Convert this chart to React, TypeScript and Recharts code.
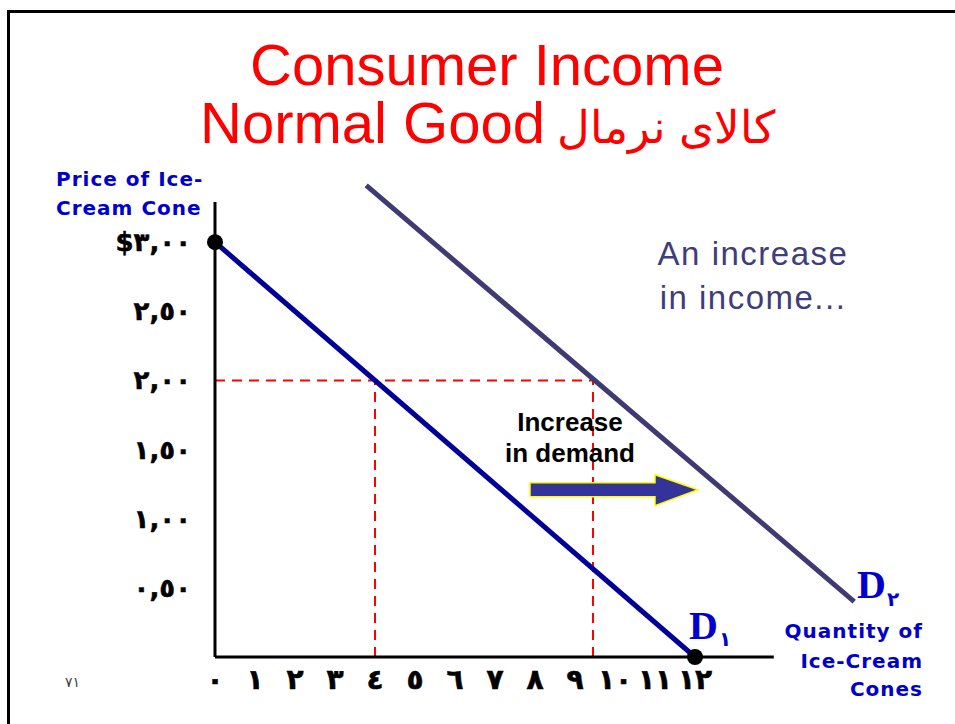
import { LineChart, Line, XAxis, YAxis, ReferenceLine, ReferenceDot } from 'recharts';

// quantity axis (ice-cream cones)
const QUANTITY_TICKS = [0, 1, 2, 3, 4, 5, 6, 7, 8, 9, 10, 11, 12];
const QUANTITY_LABELS = ['٠', '١', '٢', '٣', '٤', '٥', '٦', '٧', '٨', '٩', '١٠', '١١', '١٢'];

// price axis
const PRICE_TICKS = [0.5, 1, 1.5, 2, 2.5, 3];
const PRICE_LABELS = ['٠,٥٠', '١,٠٠', '١,٥٠', '٢,٠٠', '٢,٥٠', '$٣,٠٠'];

// demand curves, end points (quantity, price)
const D1_QTY = [0, 12];
const D1_PRICE = [3, 0];
const D2_QTY = [3.78, 15.98];
const D2_PRICE = [3.41, 0.4];

// price level and quantities demanded before / after
const PRICE_LEVEL = 2;
const OLD_QTY = 4;
const NEW_QTY = 9.45;

// where the arrow starts (quantity, price)
const ARROW_QTY = 7.875;
const ARROW_PRICE = 1.21;

// axis line lengths
const Q_AXIS_END = 13.97;
const P_AXIS_END = 3.29;

const d1 = D1_QTY.map((q, i) => ({ q, p: D1_PRICE[i] }));
const d2 = D2_QTY.map((q, i) => ({ q, p: D2_PRICE[i] }));

const BLUE = '#0000cc';
const TICK_FONT = '"DejaVu Sans", sans-serif';

function QuantityTick({ x, y, payload }: any) {
  const i = QUANTITY_TICKS.indexOf(payload.value);
  return (
    <text x={x} y={y} dy={32} textAnchor="middle" fontSize={28} fontWeight="bold" fontFamily={TICK_FONT} fill="#000" stroke="#000" strokeWidth={0.6}>
      {QUANTITY_LABELS[i]}
    </text>
  );
}

function PriceTick({ x, y, payload }: any) {
  const i = PRICE_TICKS.indexOf(payload.value);
  return (
    <text x={x - 24} y={y} dy={9} textAnchor="end" fontSize={26} fontWeight="bold" fontFamily={TICK_FONT} fill="#000" stroke="#000" strokeWidth={0.5}>
      {PRICE_LABELS[i]}
    </text>
  );
}

function Arrow({ cx, cy }: any) {
  const path = `M${cx},${cy - 7} L${cx + 125},${cy - 7} L${cx + 125},${cy - 15} L${cx + 168},${cy} L${cx + 125},${cy + 16} L${cx + 125},${cy + 7} L${cx},${cy + 7} Z`;
  return <path d={path} fill="#333399" stroke="#ffff00" strokeWidth={1.5} />;
}

const dash = { stroke: '#ff0000', strokeWidth: 2, strokeDasharray: '10 7' };

export default function App() {
  return (
    <div style={{ position: 'absolute', left: 0, top: 0, width: 955, height: 724, overflow: 'hidden', background: '#fff' }}>
      <div style={{ position: 'absolute', left: 7, top: 10, width: 1000, height: 800, borderLeft: '3px solid #000', borderTop: '3px solid #000' }} />
      <div style={{ position: 'absolute', left: 0, top: 0 }}>
        <LineChart width={955} height={724} margin={{ top: 173, right: 100, bottom: 17, left: 15 }}>
          <XAxis
            type="number"
            dataKey="q"
            domain={[0, 16]}
            ticks={QUANTITY_TICKS}
            interval={0}
            axisLine={false}
            tickLine={false}
            tickSize={0}
            tickMargin={0}
            height={50}
            tick={<QuantityTick />}
          />
          <YAxis
            type="number"
            dataKey="p"
            domain={[0, 3.5]}
            ticks={PRICE_TICKS}
            interval={0}
            axisLine={false}
            tickLine={false}
            tickSize={0}
            tickMargin={0}
            width={200}
            tick={<PriceTick />}
          />
          <ReferenceDot x={ARROW_QTY} y={ARROW_PRICE} r={1} shape={<Arrow />} ifOverflow="visible" />
          <ReferenceLine segment={[{ x: 0, y: PRICE_LEVEL }, { x: NEW_QTY, y: PRICE_LEVEL }]} {...dash} />
          <ReferenceLine segment={[{ x: OLD_QTY, y: 0 }, { x: OLD_QTY, y: PRICE_LEVEL }]} {...dash} />
          <ReferenceLine segment={[{ x: NEW_QTY, y: 0 }, { x: NEW_QTY, y: PRICE_LEVEL }]} {...dash} />
          <ReferenceLine segment={[{ x: 0, y: 0 }, { x: Q_AXIS_END, y: 0 }]} stroke="#000" strokeWidth={3} ifOverflow="visible" />
          <ReferenceLine segment={[{ x: 0, y: 0 }, { x: 0, y: P_AXIS_END }]} stroke="#000" strokeWidth={3} ifOverflow="visible" />
          <Line data={d2} dataKey="p" stroke="#3f3a72" strokeWidth={5} dot={false} isAnimationActive={false} />
          <Line data={d1} dataKey="p" stroke="#000099" strokeWidth={5} dot={false} isAnimationActive={false} />
          <ReferenceDot x={D1_QTY[0]} y={D1_PRICE[0]} r={8} fill="#000" stroke="none" ifOverflow="visible" />
          <ReferenceDot x={D1_QTY[1]} y={D1_PRICE[1]} r={8} fill="#000" stroke="none" ifOverflow="visible" />
        </LineChart>
      </div>
      <svg width={955} height={724} style={{ position: 'absolute', left: 0, top: 0, pointerEvents: 'none' }}>
        <g fontFamily='"Liberation Sans", Arial, sans-serif' fill="#ff0000" fontSize={58}>
          <text x={487} y={85} textAnchor="middle">Consumer Income</text>
          <text x={200} y={143}>Normal Good</text>
          <text x={775} y={143} textAnchor="end" fontSize={45}>کالای نرمال</text>
        </g>
        <g fontFamily='"DejaVu Sans", sans-serif' fontWeight="bold" fill={BLUE} fontSize={20} letterSpacing={1}>
          <text x={56} y={186}>Price of Ice-</text>
          <text x={56} y={215}>Cream Cone</text>
          <text x={923} y={638} textAnchor="end">Quantity of</text>
          <text x={923} y={668} textAnchor="end">Ice-Cream</text>
          <text x={923} y={696} textAnchor="end">Cones</text>
        </g>
        <g fontFamily='"Liberation Sans", Arial, sans-serif' fill="#3f3d7a" fontSize={33} letterSpacing={1.5}>
          <text x={753} y={265} textAnchor="middle">An increase</text>
          <text x={753} y={309} textAnchor="middle">in income...</text>
        </g>
        <g fontFamily='"Liberation Sans", Arial, sans-serif' fill="#000" fontSize={26} fontWeight="bold">
          <text x={570} y={431} textAnchor="middle">Increase</text>
          <text x={570} y={462} textAnchor="middle">in demand</text>
        </g>
        <g fontFamily='"Liberation Serif", "Times New Roman", serif' fontWeight="bold" fill={BLUE}>
          <text x={689} y={639} fontSize={40}>D</text>
          <text x={719} y={646} fontSize={20} fontFamily={TICK_FONT}>١</text>
          <text x={857} y={598} fontSize={40}>D</text>
          <text x={887} y={606} fontSize={20} fontFamily={TICK_FONT}>٢</text>
        </g>
        <text x={65} y={687} fontSize={14} fill="#444" fontFamily={TICK_FONT}>٧١</text>
      </svg>
    </div>
  );
}
